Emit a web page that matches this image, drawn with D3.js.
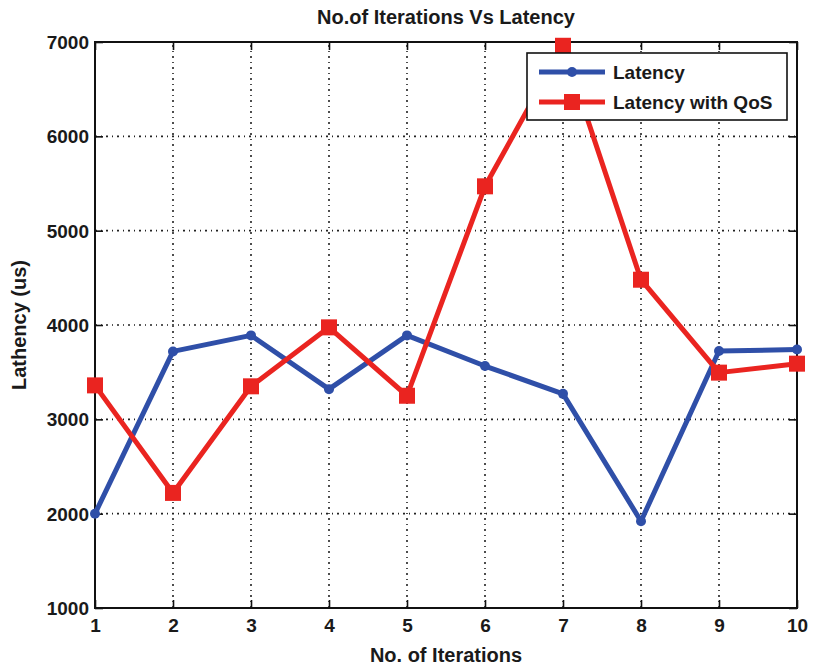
<!DOCTYPE html>
<html>
<head>
<meta charset="utf-8">
<script src="https://cdn.jsdelivr.net/npm/d3@7"></script>
<style>
  html, body { margin: 0; padding: 0; background: #fff; }
  svg { display: block; }
  text { font-family: "Liberation Sans", Arial, sans-serif; fill: #1a1a1a; }
</style>
</head>
<body>
<svg id="chart" width="815" height="665"></svg>
<script>
// Iteration numbers and measured latencies (microseconds)
const iterations = [1, 2, 3, 4, 5, 6, 7, 8, 9, 10];
const latency = [2000, 3720, 3890, 3320, 3890, 3565, 3270, 1920, 3725, 3740];
const latencyQoS = [3360, 2220, 3350, 3975, 3250, 5470, 6960, 4480, 3495, 3590];
const yTicks = [1000, 2000, 3000, 4000, 5000, 6000, 7000];
const seriesNames = ["Latency", "Latency with QoS"];

const svg = d3.select("#chart");
const margin = { left: 95, right: 18, top: 42, bottom: 57 };
const W = 815, H = 665;

const x = d3.scaleLinear().domain([1, 10]).range([margin.left, W - margin.right]);
const y = d3.scaleLinear().domain([1000, 7000]).range([H - margin.bottom, margin.top]);

const blue = "#2f4fa8";
const red = "#ea2420";

// dotted grid
const grid = svg.append("g");
const gridDash = "2,4,1,4";
grid.selectAll("line.vx").data(iterations.slice(1, -1)).join("line")
  .attr("x1", d => x(d)).attr("x2", d => x(d))
  .attr("y1", y(1000)).attr("y2", y(7000))
  .attr("stroke", "#222").attr("stroke-width", 1.6).attr("stroke-dasharray", gridDash);
grid.selectAll("line.hy").data(yTicks.slice(1, -1)).join("line")
  .attr("x1", x(1)).attr("x2", x(10))
  .attr("y1", d => y(d)).attr("y2", d => y(d))
  .attr("stroke", "#222").attr("stroke-width", 1.6).attr("stroke-dasharray", gridDash);

// axes: ticks pointing inward on all four sides
const fontTick = "19px";
const xAxis = svg.append("g").attr("transform", `translate(0,${y(1000)})`)
  .call(d3.axisTop(x).tickValues(iterations).tickFormat(d3.format("d")).tickSize(8).tickPadding(-32));
xAxis.selectAll("text").attr("font-size", fontTick).attr("font-weight", "bold").attr("dy", "0");
const xAxisTop = svg.append("g").attr("transform", `translate(0,${y(7000)})`)
  .call(d3.axisBottom(x).tickValues(iterations).tickSize(8).tickFormat(""));
const yAxis = svg.append("g").attr("transform", `translate(${x(1)},0)`)
  .call(d3.axisRight(y).tickValues(yTicks).tickFormat(d3.format("d")).tickSize(8));
yAxis.selectAll("text").attr("font-size", fontTick).attr("font-weight", "bold")
  .attr("text-anchor", "end").attr("x", -6).attr("dy", "0.35em");
const yAxisR = svg.append("g").attr("transform", `translate(${x(10)},0)`)
  .call(d3.axisLeft(y).tickValues(yTicks).tickSize(8).tickFormat(""));
[xAxis, xAxisTop, yAxis, yAxisR].forEach(g => {
  g.select(".domain").remove();
  g.selectAll(".tick line").attr("stroke", "#111").attr("stroke-width", 1.6);
});

// plot frame
svg.append("rect")
  .attr("x", x(1)).attr("y", y(7000))
  .attr("width", x(10) - x(1)).attr("height", y(1000) - y(7000))
  .attr("fill", "none").attr("stroke", "#111").attr("stroke-width", 2);

// series
const line = d3.line().x(d => x(d[0])).y(d => y(d[1]));
const blueData = iterations.map((d, i) => [d, latency[i]]);
const redData = iterations.map((d, i) => [d, latencyQoS[i]]);

svg.append("path").datum(blueData).attr("d", line)
  .attr("fill", "none").attr("stroke", blue).attr("stroke-width", 5).attr("stroke-linejoin", "round");
svg.append("g").selectAll("circle").data(blueData).join("circle")
  .attr("cx", d => x(d[0])).attr("cy", d => y(d[1])).attr("r", 5).attr("fill", blue);

svg.append("path").datum(redData).attr("d", line)
  .attr("fill", "none").attr("stroke", red).attr("stroke-width", 5).attr("stroke-linejoin", "round");
svg.append("g").selectAll("rect").data(redData).join("rect")
  .attr("x", d => x(d[0]) - 8).attr("y", d => y(d[1]) - 8)
  .attr("width", 16).attr("height", 16).attr("fill", red);

// legend
const lg = svg.append("g").attr("transform", "translate(527,53)");
lg.append("rect").attr("width", 260).attr("height", 67)
  .attr("fill", "#fff").attr("stroke", "#111").attr("stroke-width", 1.6);
const colors = [blue, red];
seriesNames.forEach((name, i) => {
  const yy = 19 + i * 30;
  lg.append("line").attr("x1", 12).attr("x2", 78).attr("y1", yy).attr("y2", yy)
    .attr("stroke", colors[i]).attr("stroke-width", 5);
  if (i === 0) lg.append("circle").attr("cx", 45).attr("cy", yy).attr("r", 5).attr("fill", blue);
  else lg.append("rect").attr("x", 37).attr("y", yy - 8).attr("width", 16).attr("height", 16).attr("fill", red);
  lg.append("text").attr("x", 86).attr("y", yy + 7).attr("font-size", "19px").attr("font-weight", "bold").text(name);
});

// titles
svg.append("text").attr("x", (x(1) + x(10)) / 2).attr("y", 24).attr("text-anchor", "middle")
  .attr("font-size", "20px").attr("font-weight", "bold").text("No.of Iterations Vs Latency");
svg.append("text").attr("x", (x(1) + x(10)) / 2).attr("y", 662).attr("text-anchor", "middle")
  .attr("font-size", "20px").attr("font-weight", "bold").text("No. of Iterations");
svg.append("text").attr("transform", `translate(26,${(y(1000) + y(7000)) / 2}) rotate(-90)`)
  .attr("text-anchor", "middle").attr("font-size", "20px").attr("font-weight", "bold").text("Lathency (us)");
</script>
</body>
</html>
